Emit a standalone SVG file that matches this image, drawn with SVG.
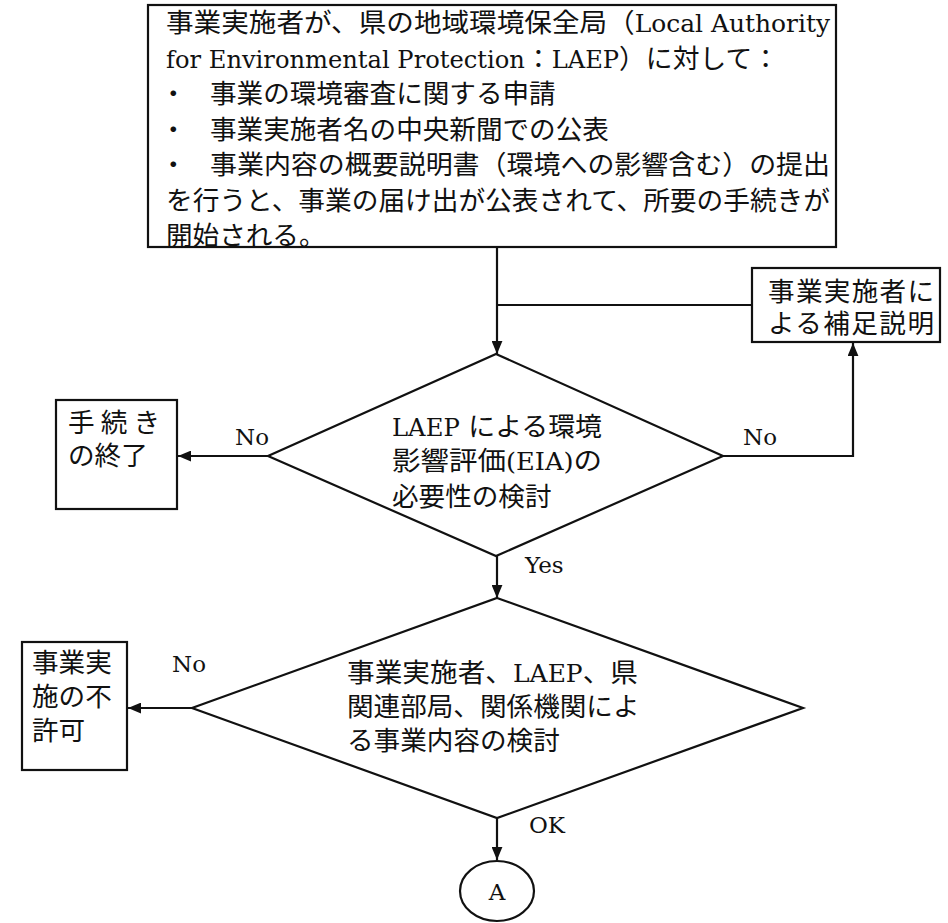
<svg xmlns="http://www.w3.org/2000/svg" width="948" height="923" viewBox="0 0 948 923">
<defs>
<marker id="ah" viewBox="0 0 12 10" refX="12" refY="5" markerWidth="13" markerHeight="11" markerUnits="userSpaceOnUse" orient="auto">
<path d="M0,0 L12,5 L0,10 Z" fill="#111"/>
</marker>
<style>
.box{fill:#fff;stroke:#111;stroke-width:2.2}
.ln{fill:none;stroke:#111;stroke-width:2.2}
.t{font-family:"DejaVu Serif","Noto Sans CJK JP",serif;font-size:26.6px;fill:#111}
.lat{font-size:24px}
.lbl{font-family:"DejaVu Serif","Liberation Serif",serif;font-size:23px;fill:#111}
</style>
</defs>
<rect width="948" height="923" fill="#fff"/>
<g id="connectors">
<line class="ln" x1="497" y1="247" x2="497" y2="354" marker-end="url(#ah)"/>
<line class="ln" x1="497" y1="305" x2="752" y2="305"/>
<polyline class="ln" points="723,456 853,456 853,343" marker-end="url(#ah)"/>
<line class="ln" x1="268" y1="456" x2="178" y2="456" marker-end="url(#ah)"/>
<line class="ln" x1="497" y1="556" x2="497" y2="598" marker-end="url(#ah)"/>
<line class="ln" x1="192" y1="708" x2="128" y2="708" marker-end="url(#ah)"/>
<line class="ln" x1="497" y1="818" x2="497" y2="860" marker-end="url(#ah)"/>
<text class="lbl" x="235" y="445">No</text>
<text class="lbl" x="743" y="445">No</text>
<text class="lbl" x="525" y="573">Yes</text>
<text class="lbl" x="172" y="672">No</text>
<text class="lbl" x="529" y="833">OK</text>
</g>
<g id="start">
<rect class="box" x="148" y="5" width="688" height="242"/>
<text class="t" x="166" y="32" textLength="664" lengthAdjust="spacingAndGlyphs">事業実施者が、県の地域環境保全局（<tspan class="lat">Local Authority</tspan></text>
<text class="t" x="166" y="67.5" textLength="613" lengthAdjust="spacingAndGlyphs"><tspan class="lat">for Environmental Protection</tspan>：<tspan class="lat">LAEP</tspan>）に対して：</text>
<text class="t" x="160" y="103"><tspan>・</tspan><tspan x="210">事業の環境審査に関する申請</tspan></text>
<text class="t" x="160" y="138.5"><tspan>・</tspan><tspan x="210">事業実施者名の中央新聞での公表</tspan></text>
<text class="t" x="160" y="174"><tspan>・</tspan><tspan x="210" textLength="620" lengthAdjust="spacingAndGlyphs">事業内容の概要説明書（環境への影響含む）の提出</tspan></text>
<text class="t" x="166" y="209.5" textLength="664" lengthAdjust="spacingAndGlyphs">を行うと、事業の届け出が公表されて、所要の手続きが</text>
<text class="t" x="166" y="245">開始される。</text>
</g>
<g id="supplement">
<rect class="box" x="752" y="268" width="188" height="74"/>
<text class="t" x="768" y="301" textLength="166" lengthAdjust="spacing">事業実施者に</text>
<text class="t" x="768" y="333" textLength="166" lengthAdjust="spacing">よる補足説明</text>
</g>
<g id="eia-check">
<polygon class="box" points="496,354 723,456 496,556 268,456"/>
<text class="t" x="392" y="436" textLength="210" lengthAdjust="spacingAndGlyphs"><tspan class="lat">LAEP</tspan> による環境</text>
<text class="t" x="392" y="470" textLength="210" lengthAdjust="spacingAndGlyphs">影響評価<tspan class="lat">(EIA)</tspan>の</text>
<text class="t" x="392" y="506">必要性の検討</text>
</g>
<g id="end-procedure">
<rect class="box" x="56" y="400" width="121" height="109"/>
<text class="t" x="68" y="432" textLength="92" lengthAdjust="spacing">手続き</text>
<text class="t" x="68" y="465">の終了</text>
</g>
<g id="content-check">
<polygon class="box" points="497,598 803,708 497,818 192,708"/>
<text class="t" x="347" y="682" textLength="291" lengthAdjust="spacingAndGlyphs">事業実施者、<tspan class="lat">LAEP</tspan>、県</text>
<text class="t" x="347" y="716">関連部局、関係機関によ</text>
<text class="t" x="347" y="750">る事業内容の検討</text>
</g>
<g id="not-permitted">
<rect class="box" x="22" y="642" width="105" height="128"/>
<text class="t" x="32" y="672">事業実</text>
<text class="t" x="32" y="706">施の不</text>
<text class="t" x="32" y="740">許可</text>
</g>
<g id="A">
<ellipse class="box" cx="497" cy="891" rx="37" ry="30"/>
<text class="lbl" x="497" y="900" text-anchor="middle">A</text>
</g>
</svg>
